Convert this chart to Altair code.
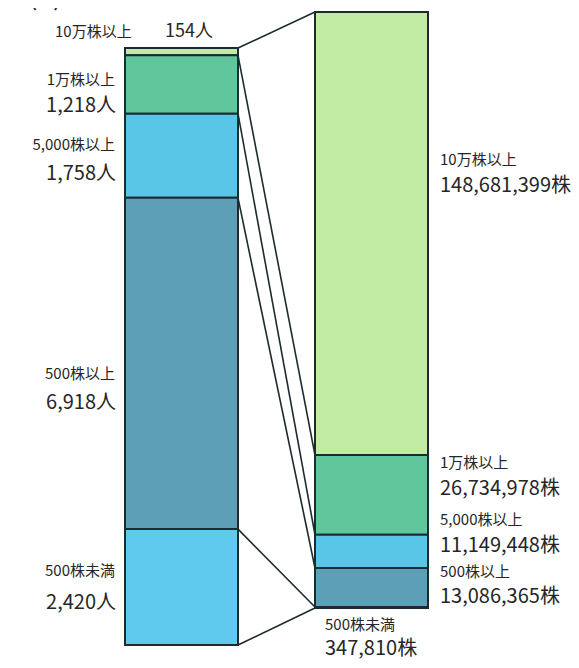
import altair as alt
import pandas as pd

# ---- data ----
categories = ["10万株以上", "1万株以上", "5,000株以上", "500株以上", "500株未満"]
holders = [154, 1218, 1758, 6918, 2420]          # 人
shares = [148681399, 26734978, 11149448, 13086365, 347810]  # 株
title_text = "(2)所有株数別状況"

# ---- styles / layout ----
colors = ["#c2eba3", "#5fc79b", "#5ac6e7", "#5c9fb6", "#5fc9ee"]
W, H = 563, 652
LEFT = dict(x0=117, x1=230, top=40, bottom=637)
RIGHT = dict(x0=307, x1=420, top=4, bottom=600)
FONT = "Noto Sans CJK JP"
NAME_FS, VAL_FS = 15, 20
# label positions (plot coords)
left_lab_x = 107
left_lab_y = {1: (72, 98), 2: (137, 166), 3: (366, 395), 4: (563, 595)}
right_lab_x = 432
right_lab_y = {0: (152, 178), 1: (455, 481), 2: (512, 538), 3: (564, 589)}
bottom_lab = (317, 617, 641)


def boundaries(values, top, bottom):
    total = sum(values)
    out, cum = [top], 0
    for v in values:
        cum += v
        out.append(top + cum / total * (bottom - top))
    return out


lb = boundaries(holders, LEFT["top"], LEFT["bottom"])
rb = boundaries(shares, RIGHT["top"], RIGHT["bottom"])

rects = []
for i, c in enumerate(categories):
    rects.append(dict(cat=c, color=colors[i], x0=LEFT["x0"], x1=LEFT["x1"], y0=lb[i], y1=lb[i + 1]))
    rects.append(dict(cat=c, color=colors[i], x0=RIGHT["x0"], x1=RIGHT["x1"], y0=rb[i], y1=rb[i + 1]))
rects = pd.DataFrame(rects)

links = pd.DataFrame([dict(x0=LEFT["x1"], x1=RIGHT["x0"], y0=lb[i], y1=rb[i]) for i in range(len(lb))])

left_labels, right_labels = [], []
left_top = [
    dict(t=categories[0], x=47, y=24, fs=NAME_FS),
    dict(t=f"{holders[0]:,}人", x=157, y=24, fs=VAL_FS - 2),
]
for i, (yn, yv) in left_lab_y.items():
    left_labels.append(dict(t=categories[i], x=left_lab_x, y=yn, fs=NAME_FS))
    left_labels.append(dict(t=f"{holders[i]:,}人", x=left_lab_x + 1, y=yv, fs=VAL_FS))
for i, (yn, yv) in right_lab_y.items():
    right_labels.append(dict(t=categories[i], x=right_lab_x, y=yn, fs=NAME_FS))
    right_labels.append(dict(t=f"{shares[i]:,}株", x=right_lab_x, y=yv, fs=VAL_FS))
bx, byn, byv = bottom_lab
right_labels.append(dict(t=categories[4], x=bx, y=byn, fs=NAME_FS))
right_labels.append(dict(t=f"{shares[4]:,}株", x=bx, y=byv, fs=VAL_FS))
title_rows = [dict(t=title_text, x=20, y=3, fs=28)]

xs = alt.Scale(domain=[0, W], nice=False, zero=False)
ys = alt.Scale(domain=[0, H], nice=False, zero=False, reverse=True)

bars = alt.Chart(rects).mark_rect(stroke="#1d2b30", strokeWidth=2).encode(
    x=alt.X("x0:Q", scale=xs, axis=None), x2="x1:Q",
    y=alt.Y("y0:Q", scale=ys, axis=None), y2="y1:Q",
    color=alt.Color("color:N", scale=None),
)

lines = alt.Chart(links).mark_rule(color="#1d2b30", strokeWidth=1.6).encode(
    x=alt.X("x0:Q", scale=xs, axis=None), x2="x1:Q",
    y=alt.Y("y0:Q", scale=ys, axis=None), y2="y1:Q",
)


def text_layer(df, align, baseline="middle"):
    return alt.Chart(pd.DataFrame(df)).mark_text(
        align=align, baseline=baseline, font=FONT, color="#262626"
    ).encode(
        x=alt.X("x:Q", scale=xs, axis=None),
        y=alt.Y("y:Q", scale=ys, axis=None),
        text="t:N",
        size=alt.Size("fs:Q", scale=None, legend=None),
    )


chart = alt.layer(
    lines,
    bars,
    text_layer(left_labels, "right"),
    text_layer(right_labels, "left"),
    text_layer(left_top, "left"),
    text_layer(title_rows, "left", baseline="bottom"),
).properties(
    width=W, height=H, padding=0,
    autosize=alt.AutoSizeParams(type="none", contains="padding"),
).configure_view(stroke=None)

chart.save("out.html", embed_options={"renderer": "svg", "actions": False})
